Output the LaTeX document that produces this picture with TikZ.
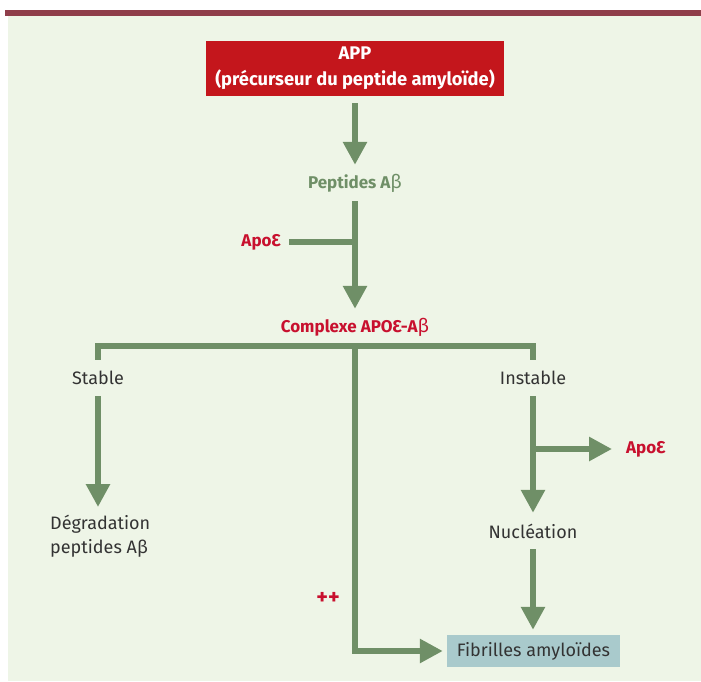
\documentclass[tikz,border=0pt]{standalone}
\usepackage{fontspec}
\setmainfont{Fira Sans}
\usetikzlibrary{arrows.meta,positioning}
\definecolor{PageGreen}{HTML}{EEF5E7}
\definecolor{TopBar}{HTML}{8F3E4A}
\definecolor{BoxRed}{HTML}{C4161C}
\definecolor{ArrowGreen}{HTML}{6F8F67}
\definecolor{LabelRed}{HTML}{C8102E}
\definecolor{TextGray}{HTML}{333333}
\definecolor{FibBlue}{HTML}{A9CACC}

\begin{document}
\begin{tikzpicture}[x=1pt, y=-1pt, >={Triangle[length=23pt,width=23pt]},
    link/.style={draw=ArrowGreen, line width=6.5pt},
    flow/.style={link, ->},
    lbl/.style={inner sep=0pt, minimum height=36pt, text=TextGray,
      font=\fontsize{18}{21}\selectfont},
    boldlbl/.style={lbl, font=\fontsize{17}{20}\selectfont\bfseries}]
    \useasboundingbox (0,0) rectangle (701,681);
    % Background
    \fill [PageGreen] (8,15) rectangle (701,681);
    \fill [TopBar] (5,10) rectangle (701,15.5);

    % Nodes
    \node [fill=BoxRed, text=white, align=center, minimum width=298pt,
      minimum height=55pt, inner sep=0pt, font=\fontsize{18.3}{26}\selectfont\bfseries]
      (app) at (355,68.5) {APP\\(précurseur du peptide amyloïde)};
    \node [boldlbl, text=ArrowGreen] (pep) at (355,183) {Peptides A{\mdseries\fontsize{19}{20}\selectfont β}};
    \node [boldlbl, text=LabelRed, anchor=east, inner xsep=8pt] (apoeA) at (289,242) {ApoƐ};
    \node [boldlbl, text=LabelRed] (cplx) at (355,327) {Complexe APOƐ-A{\mdseries\fontsize{19}{20}\selectfont β}};
    \node [lbl] (stable) at (98,378) {Stable};
    \node [lbl] (instable) at (533,378) {Instable};
    \node [lbl, align=left, anchor=north west, minimum height=0pt,
      font=\fontsize{18}{24}\selectfont] (degr) at (50,515) {Dégradation\\peptides Aβ};
    \node [boldlbl, text=LabelRed, anchor=west, inner xsep=14pt] (apoeB) at (612,449) {ApoƐ};
    \node [lbl] (nucl) at (533,531) {Nucléation};
    \node [boldlbl, text=LabelRed, font=\fontsize{22}{22}\selectfont\bfseries] (plus) at (328,598) {++};
    \node [lbl, fill=FibBlue, minimum width=173pt, minimum height=32pt]
      (fib) at (533.5,651) {Fibrilles amyloïdes};

    % Junctions
    \coordinate (jA) at (pep |- apoeA);
    \coordinate (bar) at (355,346);
    \coordinate (jB) at (instable |- apoeB);

    % Connectors
    \draw [flow, shorten <=7pt] (app) -- (pep);
    \draw [flow] (pep) -- (cplx);
    \draw [link] (apoeA) -- (jA);
    \draw [link] (stable) |- (bar) -| (instable);
    \draw [flow, shorten >=8pt] (stable) -- (stable |- degr.north);
    \draw [flow] (instable) -- (nucl);
    \draw [flow] (jB) -- (apoeB);
    \draw [flow, shorten >=5pt] (nucl) -- (nucl |- fib.north);
    \draw [flow, shorten >=4pt] (bar) |- (fib);
\end{tikzpicture}
\end{document}
